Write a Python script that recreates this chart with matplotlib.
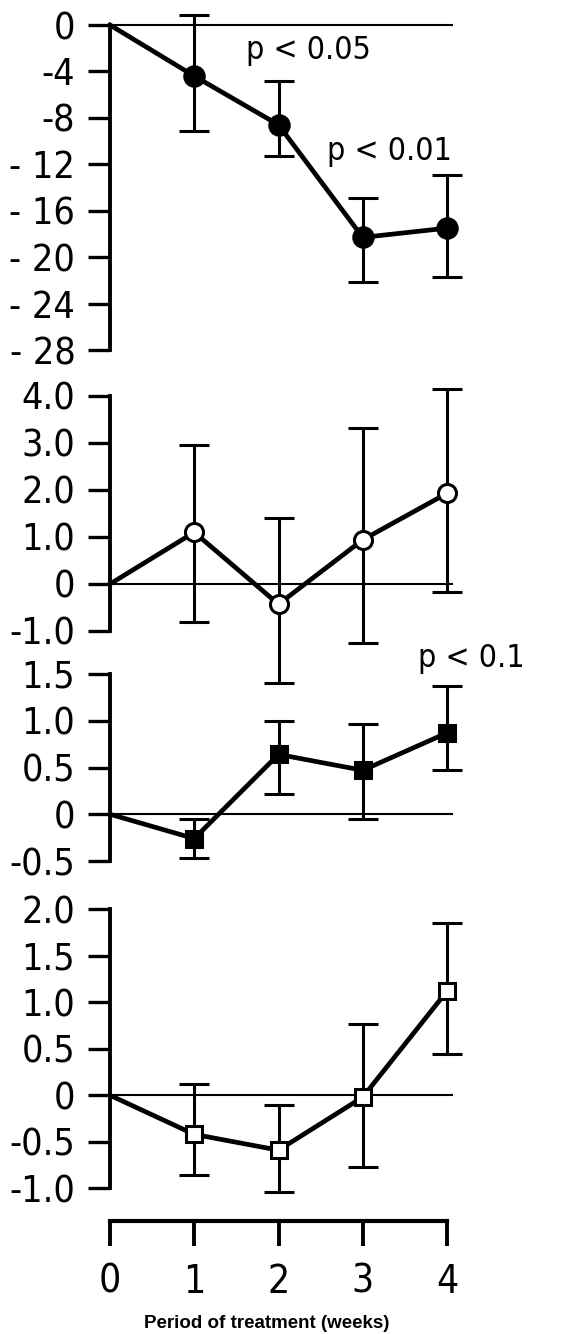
import os
import matplotlib.pyplot as plt
from matplotlib import font_manager

# pick a narrow font if one is there
narrow = None
wanted = ['LiberationSansNarrow-Regular', 'DejaVuSansCondensed.ttf', 'RobotoCondensed-Regular',
          'Roboto_Condensed-Regular', 'OpenSans_Condensed-Regular', 'NotoSans-Condensed.ttf']
files = [f.fname for f in font_manager.fontManager.ttflist]
for w in wanted:
    hits = [f for f in files if w in os.path.basename(f)]
    if hits:
        narrow = font_manager.FontProperties(fname=hits[0])
        break
if narrow is None:
    narrow = font_manager.FontProperties(family='DejaVu Sans', stretch='condensed')

# data: mean change and ends of the error bars
weeks = [0, 1, 2, 3, 4]

p1_mean = [0, -4.4, -8.6, -18.3, -17.5]
p1_hi = [0, 0.9, -4.8, -14.9, -12.9]
p1_lo = [0, -9.1, -11.3, -22.1, -21.7]
p1_ticks = [0, -4, -8, -12, -16, -20, -24, -28]
p1_labels = ['0', '-4', '-8', '- 12', '- 16', '- 20', '- 24', '- 28']

p2_mean = [0, 1.1, -0.43, 0.94, 1.93]
p2_hi = [0, 2.96, 1.41, 3.32, 4.15]
p2_lo = [0, -0.8, -2.1, -1.26, -0.17]
p2_ticks = [4.0, 3.0, 2.0, 1.0, 0, -1.0]
p2_labels = ['4.0', '3.0', '2.0', '1.0', '0', '-1.0']

p3_mean = [0, -0.26, 0.64, 0.47, 0.87]
p3_hi = [0, -0.05, 1.0, 0.96, 1.37]
p3_lo = [0, -0.47, 0.22, -0.05, 0.47]
p3_ticks = [1.5, 1.0, 0.5, 0, -0.5]
p3_labels = ['1.5', '1.0', '0.5', '0', '-0.5']

p4_mean = [0, -0.42, -0.59, -0.02, 1.12]
p4_hi = [0, 0.12, -0.1, 0.77, 1.85]
p4_lo = [0, -0.86, -1.04, -0.77, 0.44]
p4_ticks = [2.0, 1.5, 1.0, 0.5, 0, -0.5, -1.0]
p4_labels = ['2.0', '1.5', '1.0', '0.5', '0', '-0.5', '-1.0']

W, H = 576, 1334
fig = plt.figure(figsize=(W / 100, H / 100), dpi=100)

X0_PX, X_SCALE = 110, 84.25
XLIM = (0, 4.2)
ax_left = X0_PX - (0 - XLIM[0]) * X_SCALE
ax_width = (XLIM[1] - XLIM[0]) * X_SCALE
LABEL_SIZE = 27


def make_axes(v_a, px_a, v_b, px_b, ylim):
    s = (px_b - px_a) / (v_a - v_b)
    top = px_a - (ylim[1] - v_a) * s
    bot = px_a + (v_a - ylim[0]) * s
    return fig.add_axes([ax_left / W, 1 - bot / H, ax_width / W, (bot - top) / H])


def panel(ax, mean, hi, lo, ticks, labels, ylim, marker, ms, filled):
    ax.set_xlim(XLIM)
    ax.set_ylim(ylim)
    for s in ['top', 'right', 'bottom']:
        ax.spines[s].set_visible(False)
    ax.spines['left'].set_linewidth(2.8)
    ax.spines['left'].set_bounds(min(ticks), max(ticks))
    ax.set_xticks([])
    ax.set_yticks(ticks, labels, fontproperties=narrow, fontsize=LABEL_SIZE)
    ax.tick_params(axis='y', direction='out', length=16, width=2.4, pad=9)
    ax.patch.set_visible(False)

    ax.hlines(0, weeks[0], weeks[-1] + 0.07, color='black', lw=1.5, zorder=1, clip_on=False)
    ax.plot(weeks, mean, color='black', lw=3.4, zorder=3, clip_on=False)
    err = [[m - l for m, l in zip(mean[1:], lo[1:])],
           [h - m for m, h in zip(mean[1:], hi[1:])]]
    ax.errorbar(weeks[1:], mean[1:], yerr=err, fmt='none', ecolor='black',
                elinewidth=2.2, capsize=11, capthick=2.2, zorder=2, clip_on=False)
    ax.plot(weeks[1:], mean[1:], ls='none', marker=marker, ms=ms,
            mfc='black' if filled else 'white', mec='black', mew=2.2,
            zorder=4, clip_on=False)


ax1 = make_axes(0, 25, -28, 350, (-29, 1.5))
panel(ax1, p1_mean, p1_hi, p1_lo, p1_ticks, p1_labels, (-29, 1.5), 'o', 14, True)
ax1.text(2.36, -2.2, 'p < 0.05', fontproperties=narrow, fontsize=23, ha='center', va='center')
ax1.text(3.32, -10.9, 'p < 0.01', fontproperties=narrow, fontsize=23, ha='center', va='center')

ax2 = make_axes(4.0, 396, -1.0, 631, (-2.3, 4.4))
panel(ax2, p2_mean, p2_hi, p2_lo, p2_ticks, p2_labels, (-2.3, 4.4), 'o', 13, False)

ax3 = make_axes(1.5, 674, -0.5, 861, (-0.6, 1.7))
panel(ax3, p3_mean, p3_hi, p3_lo, p3_ticks, p3_labels, (-0.6, 1.7), 's', 11, True)
ax3.text(3.66, 1.67, 'p < 0.1', fontproperties=narrow, fontsize=23, ha='left', va='center',
         clip_on=False)

ax4 = make_axes(2.0, 909.3, -1.0, 1188.3, (-1.15, 2.1))
panel(ax4, p4_mean, p4_hi, p4_lo, p4_ticks, p4_labels, (-1.15, 2.1), 's', 11, False)

# shared x axis at the bottom
axx = fig.add_axes([ax_left / W, 1 - 1221 / H, ax_width / W, 0.001])
axx.set_xlim(XLIM)
for s in ['top', 'right', 'left']:
    axx.spines[s].set_visible(False)
axx.spines['bottom'].set_linewidth(3)
axx.spines['bottom'].set_bounds(weeks[0], weeks[-1])
axx.set_yticks([])
axx.set_xticks(weeks, [str(w) for w in weeks], fontproperties=narrow, fontsize=28)
axx.tick_params(axis='x', direction='out', length=18, width=2.8, pad=12)
axx.patch.set_visible(False)

fig.text(267 / W, 1 - 1323 / H, 'Period of treatment (weeks)', ha='center', va='center',
         fontsize=13.5, fontweight='bold', family=['Liberation Sans', 'DejaVu Sans'])

fig.savefig('out.png', dpi=100)
